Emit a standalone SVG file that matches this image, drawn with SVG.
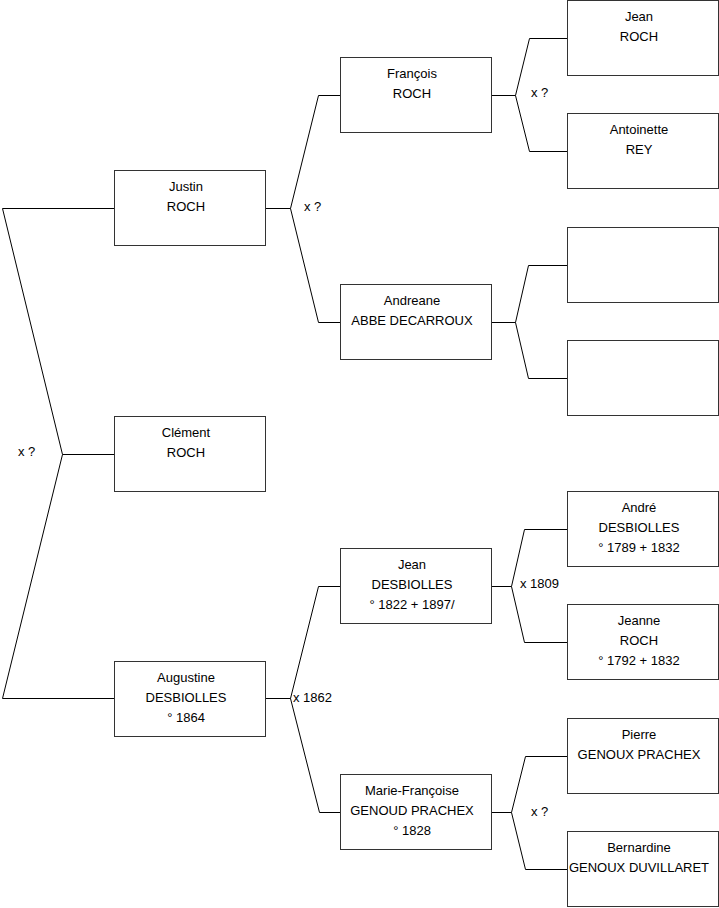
<svg xmlns="http://www.w3.org/2000/svg" width="719" height="908" viewBox="0 0 719 908">
<style>
.box{fill:#fff;stroke:#333;stroke-width:1}
.ln{fill:none;stroke:#000;stroke-width:1}
text{font-family:"Liberation Sans",Arial,sans-serif;font-size:13px;fill:#000}
.c{text-anchor:middle}
</style>
<rect width="719" height="908" fill="#fff"/>
<g id="connectors">
<polyline class="ln" points="114,208.5 2.5,208.5 62.5,454.5 2.5,698.5 114,698.5"/>
<line class="ln" x1="62.5" y1="454.5" x2="114" y2="454.5"/>
<polyline class="ln" points="340,95.5 318.5,95.5 290.5,208.5 318.5,322.5 340,322.5"/>
<line class="ln" x1="265.5" y1="208.5" x2="290.5" y2="208.5"/>
<polyline class="ln" points="567,38.5 529.5,38.5 515.5,95.5 529.5,151.5 567,151.5"/>
<line class="ln" x1="491.5" y1="95.5" x2="515.5" y2="95.5"/>
<polyline class="ln" points="567,265.5 528.5,265.5 515.5,322.5 528.5,378.5 567,378.5"/>
<line class="ln" x1="491.5" y1="322.5" x2="515.5" y2="322.5"/>
<polyline class="ln" points="340,586.5 318.5,586.5 290.5,698.5 319.5,812.5 340,812.5"/>
<line class="ln" x1="265.5" y1="698.5" x2="290.5" y2="698.5"/>
<polyline class="ln" points="567,529.5 524.5,529.5 511.5,586.5 524.5,642.5 567,642.5"/>
<line class="ln" x1="491.5" y1="586.5" x2="511.5" y2="586.5"/>
<polyline class="ln" points="567,756.5 525.5,756.5 511.5,812.5 525.5,869.5 567,869.5"/>
<line class="ln" x1="491.5" y1="812.5" x2="511.5" y2="812.5"/>
<text x="18" y="456">x ?</text>
<text x="304" y="211">x ?</text>
<text x="531" y="97">x ?</text>
<text x="293" y="702">x 1862</text>
<text x="520" y="588">x 1809</text>
<text x="531" y="816">x ?</text>
</g>
<g id="justin"><rect class="box" x="114.5" y="170.5" width="151" height="75"/><text class="c" x="186" y="191">Justin</text><text class="c" x="186" y="211">ROCH</text></g>
<g id="clement"><rect class="box" x="114.5" y="416.5" width="151" height="75"/><text class="c" x="186" y="437">Clément</text><text class="c" x="186" y="457">ROCH</text></g>
<g id="augustine"><rect class="box" x="114.5" y="661.5" width="151" height="75"/><text class="c" x="186" y="682">Augustine</text><text class="c" x="186" y="702">DESBIOLLES</text><text class="c" x="186" y="722">° 1864</text></g>
<g id="francois"><rect class="box" x="340.5" y="57.5" width="151" height="75"/><text class="c" x="412" y="78">François</text><text class="c" x="412" y="98">ROCH</text></g>
<g id="andreane"><rect class="box" x="340.5" y="284.5" width="151" height="75"/><text class="c" x="412" y="305">Andreane</text><text class="c" x="412" y="325">ABBE DECARROUX</text></g>
<g id="jean-desbiolles"><rect class="box" x="340.5" y="548.5" width="151" height="75"/><text class="c" x="412" y="569">Jean</text><text class="c" x="412" y="589">DESBIOLLES</text><text class="c" x="412" y="609">° 1822 + 1897/</text></g>
<g id="marie-francoise"><rect class="box" x="340.5" y="774.5" width="151" height="75"/><text class="c" x="412" y="795">Marie-Françoise</text><text class="c" x="412" y="815">GENOUD PRACHEX</text><text class="c" x="412" y="835">° 1828</text></g>
<g id="jean-roch"><rect class="box" x="567.5" y="0.5" width="151" height="75"/><text class="c" x="639" y="21">Jean</text><text class="c" x="639" y="41">ROCH</text></g>
<g id="antoinette"><rect class="box" x="567.5" y="113.5" width="151" height="75"/><text class="c" x="639" y="134">Antoinette</text><text class="c" x="639" y="154">REY</text></g>
<g id="empty1"><rect class="box" x="567.5" y="227.5" width="151" height="75"/></g>
<g id="empty2"><rect class="box" x="567.5" y="340.5" width="151" height="75"/></g>
<g id="andre"><rect class="box" x="567.5" y="491.5" width="151" height="75"/><text class="c" x="639" y="512">André</text><text class="c" x="639" y="532">DESBIOLLES</text><text class="c" x="639" y="552">° 1789 + 1832</text></g>
<g id="jeanne"><rect class="box" x="567.5" y="604.5" width="151" height="75"/><text class="c" x="639" y="625">Jeanne</text><text class="c" x="639" y="645">ROCH</text><text class="c" x="639" y="665">° 1792 + 1832</text></g>
<g id="pierre"><rect class="box" x="567.5" y="718.5" width="151" height="75"/><text class="c" x="639" y="739">Pierre</text><text class="c" x="639" y="759">GENOUX PRACHEX</text></g>
<g id="bernardine"><rect class="box" x="567.5" y="831.5" width="151" height="75"/><text class="c" x="639" y="852">Bernardine</text><text class="c" x="639" y="872">GENOUX DUVILLARET</text></g>
</svg>
